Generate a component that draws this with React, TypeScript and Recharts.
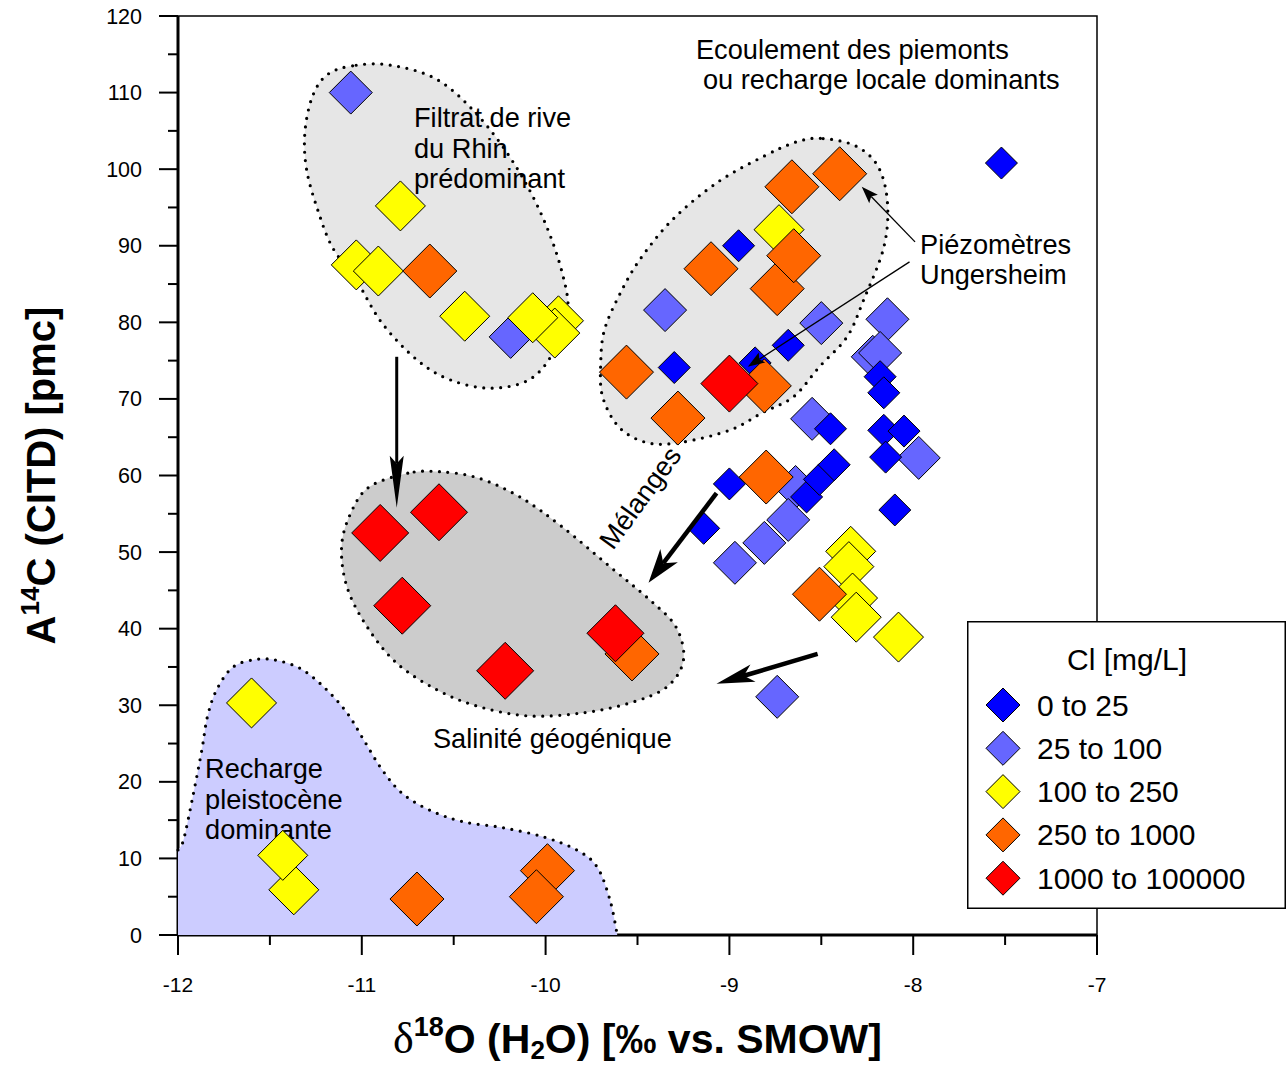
import React from 'react';
import { ScatterChart, Scatter, XAxis, YAxis, Legend, ReferenceArea } from 'recharts';

type Pt = { x: number; y: number };

// ---- Samples, grouped by chloride class (x = δ18O ‰, y = A14C pmc) ----
const cl0to25: Pt[] = [
  { x: -7.52, y: 100.8 }, { x: -8.95, y: 90.0 }, { x: -9.3, y: 74.1 }, { x: -8.86, y: 74.7 },
  { x: -8.68, y: 77.0 }, { x: -8.18, y: 72.9 }, { x: -8.16, y: 70.8 }, { x: -8.45, y: 66.1 },
  { x: -8.16, y: 65.9 }, { x: -8.05, y: 65.8 }, { x: -8.15, y: 62.4 }, { x: -8.1, y: 55.5 },
  { x: -8.58, y: 57.2 }, { x: -8.51, y: 59.5 }, { x: -8.43, y: 61.4 }, { x: -9.0, y: 58.9 },
  { x: -9.14, y: 53.1 },
];
const cl25to100: Pt[] = [
  { x: -11.06, y: 110.0 }, { x: -10.19, y: 78.1 }, { x: -9.35, y: 81.6 }, { x: -8.5, y: 79.9 },
  { x: -8.14, y: 80.4 }, { x: -8.22, y: 75.5 }, { x: -8.18, y: 76.0 }, { x: -8.55, y: 67.4 },
  { x: -7.97, y: 62.3 }, { x: -8.64, y: 58.5 }, { x: -8.68, y: 54.2 }, { x: -8.81, y: 51.2 },
  { x: -8.97, y: 48.6 }, { x: -8.74, y: 31.1 },
];
const cl100to250: Pt[] = [
  { x: -10.79, y: 95.2 }, { x: -11.03, y: 87.5 }, { x: -10.91, y: 86.7 }, { x: -10.44, y: 80.8 },
  { x: -9.93, y: 80.2 }, { x: -9.95, y: 78.6 }, { x: -10.07, y: 80.6 }, { x: -8.73, y: 92.1 },
  { x: -8.34, y: 50.1 }, { x: -8.35, y: 48.1 }, { x: -8.33, y: 44.0 }, { x: -8.31, y: 41.5 },
  { x: -8.08, y: 38.9 }, { x: -11.6, y: 30.3 }, { x: -11.37, y: 5.9 }, { x: -11.43, y: 10.4 },
];
const cl250to1000: Pt[] = [
  { x: -10.63, y: 86.7 }, { x: -8.66, y: 97.7 }, { x: -8.4, y: 99.4 }, { x: -9.1, y: 87.0 },
  { x: -8.74, y: 84.4 }, { x: -8.65, y: 88.7 }, { x: -9.56, y: 73.5 }, { x: -9.28, y: 67.5 },
  { x: -8.81, y: 71.7 }, { x: -8.8, y: 59.8 }, { x: -8.51, y: 44.5 }, { x: -9.53, y: 36.7 },
  { x: -10.7, y: 4.7 }, { x: -9.99, y: 8.4 }, { x: -10.05, y: 5.0 },
];
const cl1000plus: Pt[] = [
  { x: -9.0, y: 72.0 }, { x: -10.9, y: 52.5 }, { x: -10.58, y: 55.2 }, { x: -10.78, y: 43.0 },
  { x: -10.22, y: 34.5 }, { x: -9.62, y: 39.4 },
];

// ---- Legend classes ----
const classLabels = ['0 to 25', '25 to 100', '100 to 250', '250 to 1000', '1000 to 100000'];
const classColors = ['#0000ff', '#6666ff', '#ffff00', '#ff6600', '#ff0000'];

// ---- Axis ticks ----
const xTicks = [-12, -11.5, -11, -10.5, -10, -9.5, -9, -8.5, -8, -7.5, -7];
const yTicks = [0, 5, 10, 15, 20, 25, 30, 35, 40, 45, 50, 55, 60, 65, 70, 75, 80, 85, 90, 95, 100, 105, 110, 115, 120];

// ---- Outlines of the interpretation zones (data coordinates) ----
const zoneRhin: Pt[] = [
  { x: -11.05, y: 113.5 }, { x: -11.19, y: 112.3 }, { x: -11.27, y: 109.4 }, { x: -11.31, y: 104.7 },
  { x: -11.3, y: 99.9 }, { x: -11.24, y: 94.7 }, { x: -11.16, y: 89.8 }, { x: -11.03, y: 85.5 },
  { x: -10.89, y: 79.9 }, { x: -10.7, y: 75.1 }, { x: -10.52, y: 72.5 }, { x: -10.3, y: 71.4 },
  { x: -10.09, y: 72.5 }, { x: -9.96, y: 76.0 }, { x: -9.88, y: 81.2 }, { x: -9.91, y: 86.5 },
  { x: -10.01, y: 93.4 }, { x: -10.16, y: 100.3 }, { x: -10.36, y: 106.8 }, { x: -10.59, y: 111.7 },
  { x: -10.85, y: 113.6 },
];
const zonePiemont: Pt[] = [
  { x: -8.49, y: 104.0 }, { x: -8.31, y: 103.0 }, { x: -8.19, y: 100.3 }, { x: -8.14, y: 95.6 },
  { x: -8.16, y: 89.8 }, { x: -8.27, y: 82.9 }, { x: -8.36, y: 78.1 }, { x: -8.51, y: 74.2 },
  { x: -8.65, y: 70.3 }, { x: -8.82, y: 68.2 }, { x: -9.0, y: 65.9 }, { x: -9.27, y: 64.3 },
  { x: -9.45, y: 64.3 }, { x: -9.6, y: 66.3 }, { x: -9.69, y: 70.3 }, { x: -9.7, y: 74.7 },
  { x: -9.68, y: 79.0 }, { x: -9.6, y: 83.5 }, { x: -9.49, y: 88.1 }, { x: -9.31, y: 93.4 },
  { x: -9.07, y: 98.2 }, { x: -8.82, y: 101.6 }, { x: -8.63, y: 103.6 },
];
const zoneSalinite: Pt[] = [
  { x: -10.75, y: 60.3 }, { x: -10.96, y: 58.5 }, { x: -11.06, y: 55.1 }, { x: -11.11, y: 50.7 },
  { x: -11.08, y: 45.4 }, { x: -10.97, y: 40.2 }, { x: -10.81, y: 35.5 }, { x: -10.59, y: 32.0 },
  { x: -10.36, y: 29.8 }, { x: -10.09, y: 28.6 }, { x: -9.8, y: 29.0 }, { x: -9.54, y: 30.3 },
  { x: -9.34, y: 32.4 }, { x: -9.25, y: 35.9 }, { x: -9.29, y: 40.2 }, { x: -9.43, y: 43.7 },
  { x: -9.65, y: 48.1 }, { x: -9.91, y: 53.3 }, { x: -10.14, y: 57.2 }, { x: -10.37, y: 59.7 },
  { x: -10.58, y: 60.5 },
];
// first entry is the closing corner of the fill; the rest is the dotted boundary
const zonePleisto: Pt[] = [
  { x: -12, y: 0 },
  { x: -12, y: 11.1 }, { x: -11.97, y: 12.4 }, { x: -11.92, y: 18.0 }, { x: -11.87, y: 24.2 },
  { x: -11.84, y: 28.5 }, { x: -11.79, y: 32.0 }, { x: -11.7, y: 35.0 }, { x: -11.57, y: 36.0 },
  { x: -11.45, y: 35.8 }, { x: -11.32, y: 34.6 }, { x: -11.19, y: 32.0 }, { x: -11.08, y: 29.0 },
  { x: -10.99, y: 25.5 }, { x: -10.89, y: 21.6 }, { x: -10.78, y: 18.5 }, { x: -10.63, y: 16.3 },
  { x: -10.45, y: 14.8 }, { x: -10.23, y: 14.0 }, { x: -10.01, y: 12.8 }, { x: -9.83, y: 11.1 },
  { x: -9.72, y: 8.9 }, { x: -9.65, y: 4.6 }, { x: -9.61, y: 0 },
];

// ---- Arrows (start, end) ----
const arrowDown: Pt[] = [{ x: -10.81, y: 75.5 }, { x: -10.81, y: 55.8 }];
const arrowMelange: Pt[] = [{ x: -9.07, y: 57.7 }, { x: -9.44, y: 46.0 }];
const arrowLow: Pt[] = [{ x: -8.52, y: 36.7 }, { x: -9.07, y: 32.8 }];
const arrowPiezo1: Pt[] = [{ x: -7.99, y: 90.5 }, { x: -8.28, y: 97.7 }];
const arrowPiezo2: Pt[] = [{ x: -8.02, y: 87.9 }, { x: -8.9, y: 74.2 }];

// ---- Text annotations (anchor of first line) ----
const noteFiltrat = { at: [{ x: -10.716, y: 106.7 }], lines: ['Filtrat de rive', 'du Rhin', 'prédominant'] };
const noteEcoulement = { at: [{ x: -9.182, y: 115.6 }], lines: ['Ecoulement des piemonts', 'ou recharge locale dominants'] };
const notePiezo = { at: [{ x: -7.963, y: 90.2 }], lines: ['Piézomètres', 'Ungersheim'] };
const noteSalinite = { at: [{ x: -10.613, y: 25.6 }], lines: ['Salinité géogénique'] };
const noteRecharge = { at: [{ x: -11.853, y: 21.7 }], lines: ['Recharge', 'pleistocène', 'dominante'] };
const noteMelanges = { at: [{ x: -9.486, y: 57.1 }], lines: ['Mélanges'] };

const SANS = '"Liberation Sans", Arial, Helvetica, sans-serif';
const SERIF = '"Liberation Serif", "Times New Roman", serif';
const NOTE_SIZE = 27.2;

function smoothPath(pts: { x: number; y: number }[], closed: boolean): string {
  const n = pts.length;
  if (n < 2) return '';
  const get = (i: number) => (closed ? pts[(i + n) % n] : pts[Math.max(0, Math.min(n - 1, i))]);
  let d = `M${pts[0].x},${pts[0].y}`;
  const segs = closed ? n : n - 1;
  for (let i = 0; i < segs; i++) {
    const p0 = get(i - 1), p1 = get(i), p2 = get(i + 1), p3 = get(i + 2);
    const c1x = p1.x + (p2.x - p0.x) / 6, c1y = p1.y + (p2.y - p0.y) / 6;
    const c2x = p2.x - (p3.x - p1.x) / 6, c2y = p2.y - (p3.y - p1.y) / 6;
    d += `C${c1x},${c1y},${c2x},${c2y},${p2.x},${p2.y}`;
  }
  return closed ? d + 'Z' : d;
}

const DOTTED = { stroke: '#000', strokeWidth: 3.2, strokeDasharray: '0 8.5', strokeLinecap: 'round' as const };

const noShape = () => <g />;

const closedZone = (fill: string) => (p: any) => {
  const d = smoothPath(p.points || [], true);
  return (
    <g>
      <path d={d} fill={fill} stroke="none" />
      <path d={d} fill="none" {...DOTTED} />
    </g>
  );
};

const openZone = (fill: string) => (p: any) => {
  const pts = p.points || [];
  if (pts.length < 3) return <g />;
  const edge = smoothPath(pts.slice(1), false);
  return (
    <g>
      <path d={`${edge}L${pts[0].x},${pts[0].y}Z`} fill={fill} stroke="none" />
      <path d={edge} fill="none" {...DOTTED} />
    </g>
  );
};

const arrow = (w: number, headLen: number, headHalf: number, notch: number) => (p: any) => {
  const pts = p.points || [];
  if (pts.length < 2) return <g />;
  const a = pts[0], b = pts[pts.length - 1];
  const dx = b.x - a.x, dy = b.y - a.y;
  const L = Math.hypot(dx, dy) || 1;
  const ux = dx / L, uy = dy / L, nx = -uy, ny = ux;
  const bx = b.x - ux * headLen, by = b.y - uy * headLen;
  const mx = b.x - ux * headLen * notch, my = b.y - uy * headLen * notch;
  return (
    <g>
      <line x1={a.x} y1={a.y} x2={mx} y2={my} stroke="#000" strokeWidth={w} />
      <path
        d={`M${b.x},${b.y}L${bx + nx * headHalf},${by + ny * headHalf}L${mx},${my}L${bx - nx * headHalf},${by - ny * headHalf}Z`}
        fill="#000"
      />
    </g>
  );
};

const diamond = (r: number, fill: string) => (props: any) => {
  const { cx, cy } = props;
  if (cx == null || cy == null) return <g />;
  return (
    <path
      d={`M${cx},${cy - r}L${cx + r},${cy}L${cx},${cy + r}L${cx - r},${cy}Z`}
      fill={fill}
      stroke="#000"
      strokeWidth={1}
    />
  );
};

const textBlock = (lines: string[], fontSize: number, gap: number, rotate = 0, anchor: 'start' | 'middle' = 'start', indents: number[] = []) =>
  (props: any) => {
    const { cx, cy } = props;
    if (cx == null || cy == null) return <g />;
    return (
      <text
        x={cx}
        y={cy}
        fontFamily={SANS}
        fontSize={fontSize}
        fill="#000"
        textAnchor={anchor}
        transform={rotate ? `rotate(${rotate} ${cx} ${cy})` : undefined}
      >
        {lines.map((l, i) => (
          <tspan key={i} x={cx + (indents[i] || 0)} y={cy + i * gap} dy="0.35em">
            {l}
          </tspan>
        ))}
      </text>
    );
  };

const XTick = (props: any) => {
  const { x, y, payload } = props;
  const v = payload.value as number;
  const major = Number.isInteger(v);
  return (
    <g>
      <line x1={x} x2={x} y1={y} y2={y + (major ? 20 : 10)} stroke="#000" strokeWidth={2} />
      {major && (
        <text x={x} y={y + 57} textAnchor="middle" fontFamily={SANS} fontSize={21} fill="#000">
          {v}
        </text>
      )}
    </g>
  );
};

const YTick = (props: any) => {
  const { x, y, payload } = props;
  const v = payload.value as number;
  const major = v % 10 === 0;
  return (
    <g>
      <line x1={x - (major ? 19 : 10)} x2={x} y1={y} y2={y} stroke="#000" strokeWidth={2} />
      {major && (
        <text x={x - 36} y={y + 7.5} textAnchor="end" fontFamily={SANS} fontSize={21.5} fill="#000">
          {v}
        </text>
      )}
    </g>
  );
};

const XTitle = (props: any) => {
  const vb = props.viewBox || { x: 178, y: 935, width: 919, height: 130 };
  const cx = vb.x + vb.width / 2;
  const y = vb.y + 118;
  return (
    <text x={cx} y={y} textAnchor="middle" fontFamily={SANS} fontWeight="bold" fontSize={41} fill="#000">
      <tspan fontFamily={SERIF} fontWeight="normal" fontSize={44}>δ</tspan>
      <tspan fontSize={27} dy={-17}>18</tspan>
      <tspan dy={17}>O (H</tspan>
      <tspan fontSize={26} dy={6}>2</tspan>
      <tspan dy={-6}>O) [‰ vs. SMOW]</tspan>
    </text>
  );
};

const YTitle = (props: any) => {
  const vb = props.viewBox || { x: 0, y: 16, width: 178, height: 919 };
  const cy = vb.y + vb.height / 2;
  const x = vb.x + 55;
  return (
    <text
      x={x}
      y={cy}
      transform={`rotate(-90 ${x} ${cy})`}
      textAnchor="middle"
      fontFamily={SANS}
      fontWeight="bold"
      fontSize={40}
      fill="#000"
    >
      <tspan>A</tspan>
      <tspan fontSize={26} dy={-16}>14</tspan>
      <tspan dy={16}>C (CITD) [pmc]</tspan>
    </text>
  );
};

const LegendBox = () => (
  <div style={{ position: 'absolute', left: 0, top: 0, width: 320, height: 289 }}>
    <svg width={320} height={289} style={{ display: 'block' }}>
      <rect x={0.75} y={0.75} width={317.5} height={286.5} fill="#fff" stroke="#000" strokeWidth={1.5} />
      <text x={160} y={49} textAnchor="middle" fontFamily={SANS} fontSize={30} fill="#000">
        Cl [mg/L]
      </text>
      {classLabels.map((label, i) => {
        const cy = 84 + i * 43.3;
        const r = 17;
        return (
          <g key={label}>
            <path d={`M36,${cy - r}L${36 + r},${cy}L36,${cy + r}L${36 - r},${cy}Z`} fill={classColors[i]} stroke="#000" strokeWidth={1} />
            <text x={70} y={cy + 10.5} fontFamily={SANS} fontSize={30} fill="#000">
              {label}
            </text>
          </g>
        );
      })}
    </svg>
  </div>
);

export default function App() {
  return (
    <div style={{ position: 'absolute', left: 0, top: 0, width: 1286, height: 1065, background: '#fff' }}>
      <style>{'body{margin:0;overflow:hidden;background:#fff}'}</style>
      <ScatterChart width={1286} height={1065} margin={{ top: 16, right: 189, bottom: 0, left: 0 }}>
        <XAxis
          type="number"
          dataKey="x"
          domain={[-12, -7]}
          ticks={xTicks}
          interval={0}
          height={130}
          tickSize={0}
          tickMargin={0}
          tickLine={false}
          tick={<XTick />}
          axisLine={{ stroke: '#000', strokeWidth: 3 }}
          label={<XTitle />}
        />
        <YAxis
          type="number"
          dataKey="y"
          domain={[0, 120]}
          ticks={yTicks}
          interval={0}
          width={178}
          tickSize={0}
          tickMargin={0}
          tickLine={false}
          tick={<YTick />}
          axisLine={{ stroke: '#000', strokeWidth: 3 }}
          label={<YTitle />}
        />
        <ReferenceArea x1={-12} x2={-7} y1={0} y2={120} fill="none" stroke="#000" strokeWidth={1.5} />

        <Scatter data={zonePleisto} shape={noShape} line={openZone('#ccccff')} lineType="joint" isAnimationActive={false} legendType="none" />
        <Scatter data={zoneRhin} shape={noShape} line={closedZone('#e6e6e6')} lineType="joint" isAnimationActive={false} legendType="none" />
        <Scatter data={zonePiemont} shape={noShape} line={closedZone('#e6e6e6')} lineType="joint" isAnimationActive={false} legendType="none" />
        <Scatter data={zoneSalinite} shape={noShape} line={closedZone('#cccccc')} lineType="joint" isAnimationActive={false} legendType="none" />

        <Scatter data={noteFiltrat.at} shape={textBlock(noteFiltrat.lines, NOTE_SIZE, 30.5)} isAnimationActive={false} legendType="none" />
        <Scatter data={noteEcoulement.at} shape={textBlock(noteEcoulement.lines, NOTE_SIZE, 30, 0, 'start', [0, 7])} isAnimationActive={false} legendType="none" />
        <Scatter data={notePiezo.at} shape={textBlock(notePiezo.lines, NOTE_SIZE, 30)} isAnimationActive={false} legendType="none" />
        <Scatter data={noteSalinite.at} shape={textBlock(noteSalinite.lines, NOTE_SIZE, 30)} isAnimationActive={false} legendType="none" />
        <Scatter data={noteRecharge.at} shape={textBlock(noteRecharge.lines, NOTE_SIZE, 30.5)} isAnimationActive={false} legendType="none" />
        <Scatter data={noteMelanges.at} shape={textBlock(noteMelanges.lines, NOTE_SIZE, 30, -54, 'middle')} isAnimationActive={false} legendType="none" />

        <Scatter name="25 to 100" data={cl25to100} shape={diamond(21.5, '#6666ff')} isAnimationActive={false} />
        <Scatter name="0 to 25" data={cl0to25} shape={diamond(16, '#0000ff')} isAnimationActive={false} />
        <Scatter name="100 to 250" data={cl100to250} shape={diamond(25, '#ffff00')} isAnimationActive={false} />
        <Scatter name="250 to 1000" data={cl250to1000} shape={diamond(27, '#ff6600')} isAnimationActive={false} />
        <Scatter name="1000 to 100000" data={cl1000plus} shape={diamond(28.5, '#ff0000')} isAnimationActive={false} />

        <Scatter data={arrowDown} shape={noShape} line={arrow(3, 52, 7, 0.85)} lineType="joint" isAnimationActive={false} legendType="none" />
        <Scatter data={arrowMelange} shape={noShape} line={arrow(4.5, 34, 11, 0.72)} lineType="joint" isAnimationActive={false} legendType="none" />
        <Scatter data={arrowLow} shape={noShape} line={arrow(4.5, 38, 9, 0.75)} lineType="joint" isAnimationActive={false} legendType="none" />
        <Scatter data={arrowPiezo1} shape={noShape} line={arrow(1.3, 17, 6, 0.8)} lineType="joint" isAnimationActive={false} legendType="none" />
        <Scatter data={arrowPiezo2} shape={noShape} line={arrow(1.3, 17, 6, 0.8)} lineType="joint" isAnimationActive={false} legendType="none" />

        <Legend content={<LegendBox />} wrapperStyle={{ position: 'absolute', left: 967, top: 621, width: 0, height: 0, margin: 0, padding: 0 }} />
      </ScatterChart>
    </div>
  );
}
